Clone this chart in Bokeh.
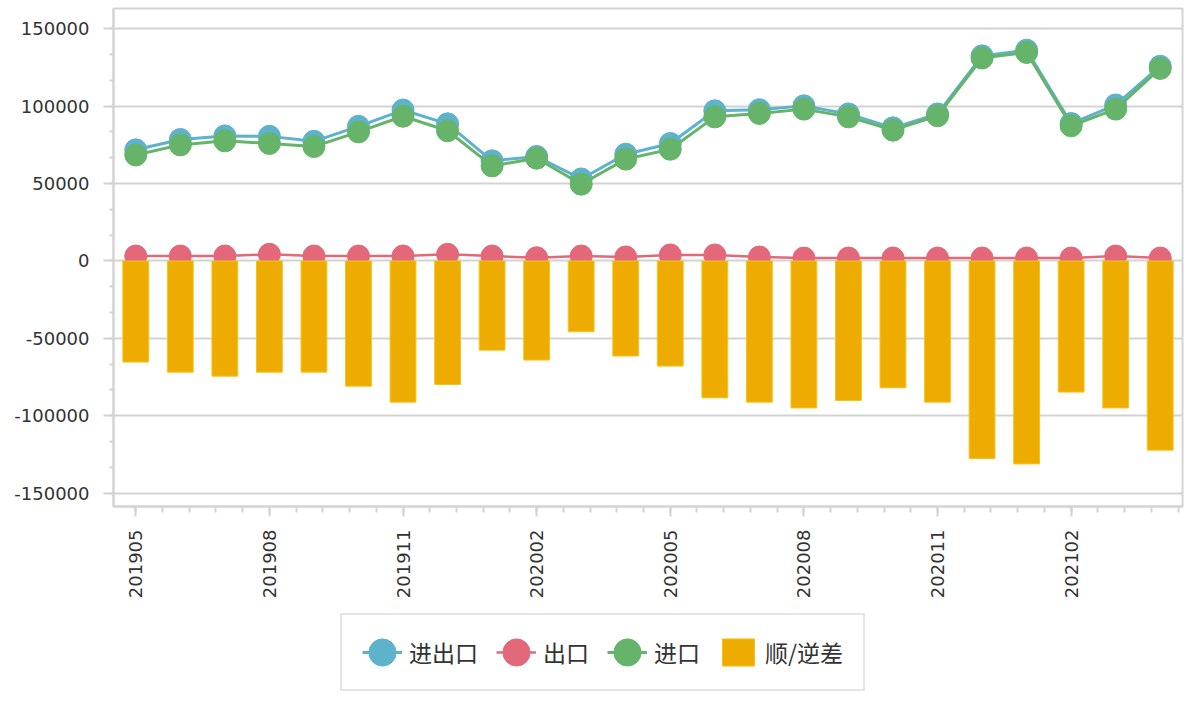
import numpy as np
from bokeh.plotting import figure
from bokeh.layouts import column
from bokeh.models import (Range1d, FixedTicker, Legend, LegendItem, ColumnDataSource)
from bokeh.embed import file_html
from bokeh.resources import INLINE

months = ["201905", "201906", "201907", "201908", "201909", "201910", "201911", "201912",
          "202001", "202002", "202003", "202004", "202005", "202006", "202007", "202008",
          "202009", "202010", "202011", "202012", "202101", "202102", "202103", "202104"]
total = [71800, 78500, 80800, 80500, 77300, 87000, 97500, 88600, 64700, 67500, 53000, 69000,
         75900, 97000, 97700, 100200, 95000, 86000, 95000, 132500, 136200, 88800, 100800, 125800]
exports = [3200, 3200, 3200, 4300, 3200, 3200, 3200, 4300, 3200, 2100, 3200, 2600,
           3900, 3900, 2600, 1900, 1900, 1900, 1900, 1900, 1900, 1900, 3200, 1900]
imports = [68500, 75000, 77600, 75900, 73900, 83400, 93500, 84100, 61400, 66400, 49600, 65800,
           72200, 93100, 95300, 98100, 93100, 84500, 93800, 131100, 134700, 87300, 98100, 124400]
balance = [-65300, -71800, -74400, -71800, -71800, -80850, -91200, -79800, -57600, -64000,
           -45700, -61400, -67900, -88400, -91200, -94900, -90100, -81900, -91200, -127600,
           -131100, -84700, -94900, -122200]
labels = ["进出口", "出口", "进口", "顺/逆差"]
y_ticks = [-150000, -100000, -50000, 0, 50000, 100000, 150000]
x_ticks_every = 3

BLUE = "#5DB2CC"
RED = "#E2687A"
GREEN = "#66B46A"
GOLD = "#EEAB00"
GRID = "#d3d3d3"
TXT = "#333333"

xs = list(range(len(months)))
src = ColumnDataSource(dict(x=xs, total=total, exports=exports, imports=imports, balance=balance))


def add_series(fig):
    ms = dict(width=22, height=22, width_units="screen", height_units="screen")
    l_tot = fig.line("x", "total", source=src, line_color=BLUE, line_width=3)
    m_tot = fig.ellipse("x", "total", source=src, fill_color=BLUE, line_color=BLUE, **ms)
    l_imp = fig.line("x", "imports", source=src, line_color=GREEN, line_width=3)
    m_imp = fig.ellipse("x", "imports", source=src, fill_color=GREEN, line_color=GREEN, **ms)
    l_exp = fig.line("x", "exports", source=src, line_color=RED, line_width=2.5)
    m_exp = fig.ellipse("x", "exports", source=src, fill_color=RED, line_color=RED, **ms)
    bars = fig.vbar(x="x", top="balance", bottom=0, width=0.58, source=src,
                    fill_color=GOLD, line_color="#F3C51A", line_width=1)
    return [[l_tot, m_tot], [l_exp, m_exp], [l_imp, m_imp], [bars]]


p = figure(width=1186, height=606, output_backend="svg", toolbar_location=None,
           x_range=Range1d(-0.5, len(months) - 0.5), y_range=Range1d(-158600, 163100),
           min_border_left=113, min_border_right=4, min_border_top=8, min_border_bottom=100)
p.background_fill_color = "white"
p.border_fill_color = "white"
p.outline_line_color = GRID
p.outline_line_width = 2
add_series(p)

p.xgrid.visible = False
p.ygrid.grid_line_color = GRID
p.ygrid.grid_line_width = 2

major_x = list(range(0, len(months), x_ticks_every))
p.xaxis.ticker = FixedTicker(ticks=major_x, minor_ticks=[i * 0.6 for i in range(40)])
p.xaxis.major_label_overrides = {i: months[i] for i in major_x}
p.xaxis.major_label_orientation = np.pi / 2
p.xaxis.major_label_standoff = 13
p.xaxis.minor_tick_out = 6

p.yaxis.ticker = FixedTicker(ticks=y_ticks,
                             minor_ticks=[k * 50000 / 3 for k in range(-9, 10)])
p.yaxis.major_label_overrides = {t: str(t) for t in y_ticks}
p.yaxis.major_label_standoff = 14
p.yaxis.minor_tick_out = 4

for ax in (p.xaxis, p.yaxis):
    ax.axis_line_color = GRID
    ax.axis_line_width = 2
    ax.major_tick_line_color = GRID
    ax.major_tick_line_width = 2
    ax.minor_tick_line_color = GRID
    ax.minor_tick_line_width = 2
    ax.major_tick_out = 10
    ax.major_tick_in = 0
    ax.minor_tick_in = 0
    ax.major_label_text_font = "DejaVu Sans"
    ax.major_label_text_font_size = "18px"
    ax.major_label_text_color = TXT

# legend strip (its own renderers sit outside its ranges, only the legend shows)
q = figure(width=1186, height=92, output_backend="svg", toolbar_location=None,
           x_range=Range1d(1000, 1001), y_range=Range1d(1000, 1001),
           x_axis_location=None, y_axis_location=None,
           min_border_left=0, min_border_right=0, min_border_top=0, min_border_bottom=0)
q.grid.visible = False
q.outline_line_color = None
q.background_fill_color = "white"
q.border_fill_color = "white"
groups = add_series(q)

legend = Legend(items=[LegendItem(label=lab, renderers=g) for lab, g in zip(labels, groups)],
                orientation="horizontal", location=(227, 7))
legend.glyph_width = 40
legend.glyph_height = 34
legend.label_standoff = 7
legend.spacing = 18
legend.padding = 20
legend.margin = 0
legend.border_line_color = "#cccccc"
legend.border_line_width = 2
legend.label_text_font = "Noto Sans CJK SC"
legend.label_text_font_size = "23px"
legend.label_text_color = TXT
legend.background_fill_color = "white"
legend.background_fill_alpha = 1
q.add_layout(legend, "center")

layout = column(p, q, spacing=0)
open("out.html", "w").write(file_html(layout, INLINE))
